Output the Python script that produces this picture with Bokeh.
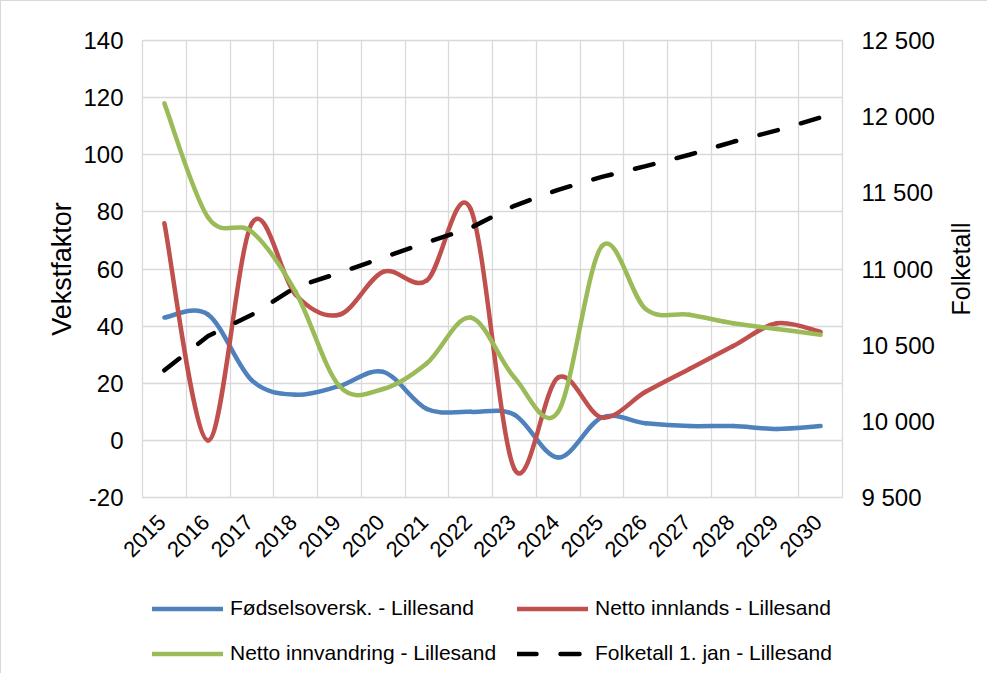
import numpy as np
from bokeh.plotting import figure
from bokeh.layouts import column, row
from bokeh.models import (Range1d, LinearAxis, FixedTicker, Legend, LegendItem,
                          ColumnDataSource, Label)
from bokeh.embed import file_html
from bokeh.resources import INLINE

# ---------------- data ----------------
years = ["2015", "2016", "2017", "2018", "2019", "2020", "2021", "2022",
         "2023", "2024", "2025", "2026", "2027", "2028", "2029", "2030"]
fodselsoversk = [43, 44, 21, 16, 19, 24, 11, 10, 9, -6, 8, 6, 5, 5, 4, 5]
netto_innlands = [76, 0, 76, 51, 44, 59, 56, 81, -10, 22, 8, 17, 25, 33, 41, 38]
netto_innvandring = [118, 78, 73, 52, 19, 18, 27, 43, 22, 10, 68, 46, 44, 41, 39, 37]
folketall = [10335, 10560, 10700, 10880, 10975, 11075, 11175, 11270,
             11415, 11520, 11605, 11675, 11750, 11835, 11910, 11995]
left_ticks = [-20, 0, 20, 40, 60, 80, 100, 120, 140]
left_labels = ["-20", "0", "20", "40", "60", "80", "100", "120", "140"]
right_ticks = [9500, 10000, 10500, 11000, 11500, 12000, 12500]
right_labels = ["9 500", "10 000", "10 500", "11 000", "11 500", "12 000", "12 500"]
left_title = "Vekstfaktor"
right_title = "Folketall"

names = ["Fødselsoversk. - Lillesand", "Netto innlands - Lillesand",
         "Netto innvandring - Lillesand", "Folketall 1. jan - Lillesand"]
colors = ["#4f81bd", "#c0504d", "#9bbb59", "#000000"]

FONT = "Liberation Sans"
LW = 4.5
DASH = "19 24"
GRID = "#d9d9d9"

xs = list(range(len(years)))
label_pos = [i - 0.06 for i in xs]


def smooth_source(values):
    """Catmull-Rom style cubic Bezier segments through the data points."""
    x = np.arange(len(values), dtype=float)
    y = np.asarray(values, dtype=float)
    xp = np.concatenate([[x[0]], x, [x[-1]]])
    yp = np.concatenate([[y[0]], y, [y[-1]]])
    n = len(values)
    d = dict(x0=[], y0=[], x1=[], y1=[], cx0=[], cy0=[], cx1=[], cy1=[])
    for i in range(n - 1):
        d["x0"].append(x[i]); d["y0"].append(y[i])
        d["x1"].append(x[i + 1]); d["y1"].append(y[i + 1])
        d["cx0"].append(x[i] + (xp[i + 2] - xp[i]) / 6.0)
        d["cy0"].append(y[i] + (yp[i + 2] - yp[i]) / 6.0)
        d["cx1"].append(x[i + 1] - (xp[i + 3] - xp[i + 1]) / 6.0)
        d["cy1"].append(y[i + 1] - (yp[i + 3] - yp[i + 1]) / 6.0)
    return ColumnDataSource(d)


# ---------------- main chart ----------------
p = figure(width=939, height=585,
           x_range=Range1d(-0.5, 15.5), y_range=Range1d(-20, 140),
           output_backend="svg", toolbar_location=None,
           min_border_left=141, min_border_right=98,
           min_border_top=39, min_border_bottom=89)
p.extra_y_ranges = {"pop": Range1d(9500, 12500)}

p.outline_line_color = GRID
p.outline_line_width = 1.3
p.background_fill_color = "white"
p.border_fill_color = "white"
p.styles = {"border-left": "1px solid " + GRID, "border-top": "1px solid " + GRID}

p.xgrid.ticker = FixedTicker(ticks=[i - 0.5 for i in range(len(years) + 1)])
p.ygrid.ticker = FixedTicker(ticks=left_ticks)
for g in (p.xgrid, p.ygrid):
    g.grid_line_color = GRID
    g.grid_line_width = 1.3

xa = p.xaxis[0]
xa.ticker = FixedTicker(ticks=label_pos)
xa.major_label_overrides = {label_pos[i]: years[i] for i in xs}
xa.major_label_orientation = np.pi / 4
xa.major_label_standoff = 21

ya = p.yaxis[0]
ya.ticker = FixedTicker(ticks=left_ticks)
ya.major_label_overrides = dict(zip(left_ticks, left_labels))
ya.axis_label = left_title
ya.major_label_standoff = 19
ya.axis_label_standoff = 3

ra = LinearAxis(y_range_name="pop", ticker=FixedTicker(ticks=right_ticks),
                major_label_overrides=dict(zip(right_ticks, right_labels)))
ra.major_label_standoff = 19
p.add_layout(ra, "right")

for ax in (xa, ya, ra):
    ax.axis_line_color = None
    ax.major_tick_line_color = None
    ax.minor_tick_line_color = None
    ax.major_tick_out = 0
    ax.major_tick_in = 0
    ax.major_label_text_font = FONT
    ax.major_label_text_font_size = "24px"
    ax.major_label_text_color = "#000000"
    ax.axis_label_text_font = FONT
    ax.axis_label_text_font_size = "27px"
    ax.axis_label_text_font_style = "normal"
    ax.axis_label_text_color = "#000000"
xa.major_label_text_font_size = "22px"

for vals, col in zip([fodselsoversk, netto_innlands, netto_innvandring], colors[:3]):
    p.bezier(x0="x0", y0="y0", x1="x1", y1="y1", cx0="cx0", cy0="cy0",
             cx1="cx1", cy1="cy1", source=smooth_source(vals),
             line_color=col, line_width=LW, line_cap="round")

p.line(xs, folketall, y_range_name="pop", line_color="black", line_width=LW,
       line_dash=DASH, line_cap="round")

# ---------------- right title strip (reads bottom-to-top) ----------------
rf = figure(width=48, height=673, x_range=Range1d(0, 1), y_range=Range1d(-20, 140),
            output_backend="svg", toolbar_location=None,
            x_axis_location=None, y_axis_location=None,
            min_border_left=0, min_border_right=0,
            min_border_top=39, min_border_bottom=177)
rf.grid.visible = False
rf.outline_line_color = None
rf.background_fill_color = "white"
rf.border_fill_color = "white"
rf.styles = {"border-top": "1px solid " + GRID}
rf.add_layout(Label(x=21, y=60, x_units="screen", text=right_title, angle=np.pi / 2,
                    text_align="center", text_baseline="middle",
                    text_font=FONT, text_font_size="25px", text_color="#000000"))

# ---------------- legend strip ----------------
# The series are drawn again here but kept outside this strip's (empty) view,
# so that only their legend glyphs appear.
lg = figure(width=939, height=88, x_range=Range1d(0, 1), y_range=Range1d(100000, 100001),
            output_backend="svg", toolbar_location=None,
            x_axis_location=None, y_axis_location=None,
            min_border_left=0, min_border_right=0,
            min_border_top=0, min_border_bottom=0)
lg.grid.visible = False
lg.outline_line_color = None
lg.background_fill_color = "white"
lg.border_fill_color = "white"
lg.styles = {"border-left": "1px solid " + GRID}

leg_r = []
for i, (vals, col) in enumerate(zip([fodselsoversk, netto_innlands,
                                     netto_innvandring, folketall], colors)):
    kw = dict(line_color=col, line_width=LW, line_cap="round")
    if i == 3:
        kw["line_dash"] = DASH
    leg_r.append(lg.line(xs, vals, **kw))


def make_legend(items, x):
    return Legend(items=items, location=(x, 7.5), orientation="vertical",
                  glyph_width=71, glyph_height=25, label_height=25,
                  label_standoff=7, spacing=20, padding=0, margin=0,
                  border_line_color=None, background_fill_alpha=0,
                  label_text_font=FONT, label_text_font_size="21px",
                  label_text_color="#000000")


lg.add_layout(make_legend([LegendItem(label=names[0], renderers=[leg_r[0]]),
                           LegendItem(label=names[2], renderers=[leg_r[2]])], 10))
lg.add_layout(make_legend([LegendItem(label=names[1], renderers=[leg_r[1]]),
                           LegendItem(label=names[3], renderers=[leg_r[3]])], 375))

layout = row(column(p, lg, spacing=0), rf, spacing=0)
open("out.html", "w").write(file_html(layout, INLINE))
